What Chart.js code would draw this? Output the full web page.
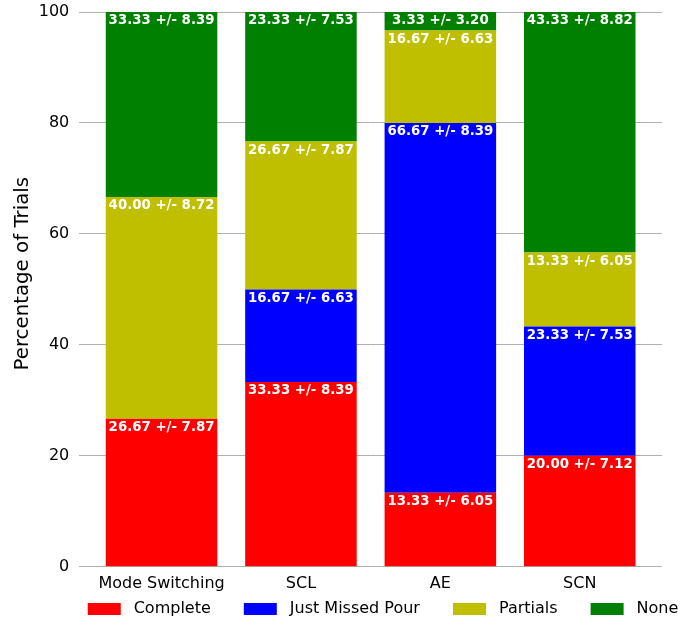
<!DOCTYPE html>
<html>
<head>
<meta charset="utf-8">
<script src="https://cdn.jsdelivr.net/npm/chart.js@4/dist/chart.umd.min.js"></script>
<style>
  html, body { margin: 0; padding: 0; background: #ffffff; overflow: hidden; }
  #wrap { position: relative; width: 691px; height: 620px; }
</style>
</head>
<body>
<div id="wrap"><canvas id="chart"></canvas></div>
<script>
// Outcome of trials per control method (percent, with standard error)
const categories = ['Mode Switching', 'SCL', 'AE', 'SCN'];
const seriesNames = ['Complete', 'Just Missed Pour', 'Partials', 'None'];

const complete       = [26.67, 33.33, 13.33, 20.00];
const completeErr    = [7.87, 8.39, 6.05, 7.12];
const justMissed     = [0.00, 16.67, 66.67, 23.33];
const justMissedErr  = [0.00, 6.63, 8.39, 7.53];
const partials       = [40.00, 26.67, 16.67, 13.33];
const partialsErr    = [8.72, 7.87, 6.63, 6.05];
const none           = [33.33, 23.33, 3.33, 43.33];
const noneErr        = [8.39, 7.53, 3.20, 8.82];

const yTicks = [0, 20, 40, 60, 80, 100];

const colors = ['#ff0000', '#0000ff', '#bfbf00', '#008000'];
const FONT = '"DejaVu Sans", "Liberation Sans", sans-serif';

const values = [complete, justMissed, partials, none];
const errors = [completeErr, justMissedErr, partialsErr, noneErr];

const datasets = seriesNames.map((name, s) => ({
  label: name,
  data: values[s].map((v, i) => ({ x: i, y: v })),
  errors: errors[s],
  backgroundColor: colors[s],
  borderWidth: 0,
  stack: 'outcome',
  categoryPercentage: 0.8,
  barPercentage: 1.0
}));

// Legend swatch: coloured box with a little spacing around it
function swatch(color) {
  const c = document.createElement('canvas');
  c.width = 63; c.height = 12;
  const g = c.getContext('2d');
  g.fillStyle = color;
  g.fillRect(25, 0, 33, 12);
  return c;
}

// "mean +/- err" written in white at the top of every non-empty segment
const valueLabels = {
  id: 'valueLabels',
  afterDatasetsDraw(chart) {
    const ctx = chart.ctx;
    ctx.save();
    ctx.font = 'bold 13.33px ' + FONT;
    ctx.fillStyle = '#ffffff';
    ctx.textAlign = 'center';
    ctx.textBaseline = 'alphabetic';
    chart.data.datasets.forEach((ds, di) => {
      const meta = chart.getDatasetMeta(di);
      meta.data.forEach((bar, i) => {
        const v = ds.data[i].y;
        if (!v) return;
        const top = Math.min(bar.y, bar.base);
        ctx.fillText(v.toFixed(2) + ' +/- ' + ds.errors[i].toFixed(2), bar.x, top + 12.3);
      });
    });
    ctx.restore();
  }
};

// nudge the legend row to the right
const legendShift = {
  id: 'legendShift',
  afterLayout(chart) {
    chart.legend.left += 36;
    chart.legend.right += 36;
  }
};

new Chart(document.getElementById('chart'), {
  type: 'bar',
  data: { datasets },
  plugins: [valueLabels, legendShift],
  options: {
    responsive: true,
    maintainAspectRatio: false,
    animation: false,
    layout: { padding: { left: 7, right: 29, top: 12, bottom: 0 } },
    plugins: {
      tooltip: { enabled: false },
      legend: {
        position: 'bottom',
        maxHeight: 27,
        labels: {
          usePointStyle: true,
          pointStyleWidth: 63,
          boxHeight: 12,
          padding: 8,
          color: '#000000',
          font: { family: FONT, size: 16 },
          generateLabels(chart) {
            const items = Chart.defaults.plugins.legend.labels.generateLabels(chart);
            items.forEach((it, k) => { it.pointStyle = swatch(colors[k]); });
            return items;
          }
        }
      }
    },
    scales: {
      x: {
        type: 'linear',
        offset: false,
        min: -0.59,
        max: 3.59,
        grid: { display: false, drawTicks: false },
        border: { display: false },
        afterBuildTicks(scale) {
          scale.ticks = categories.map((_, i) => ({ value: i }));
        },
        // tick padding is only wanted above the labels
        afterFit(scale) { scale.height -= 7; },
        ticks: {
          autoSkip: false,
          maxRotation: 0,
          padding: 7,
          color: '#000000',
          font: { family: FONT, size: 16 }
          ,
          callback: (v) => categories[v]
        }
      },
      y: {
        stacked: true,
        min: 0,
        max: 100,
        z: 1,
        grid: { color: '#b0b0b0', lineWidth: 1, drawTicks: false },
        border: { display: false },
        afterBuildTicks(scale) {
          scale.ticks = yTicks.map((v) => ({ value: v }));
        },
        // tick padding is only wanted between labels and plot;
        // the top label may overhang the plot edge
        afterFit(scale) {
          scale.width -= 10;
          scale.paddingTop = 0;
        },
        ticks: {
          padding: 10,
          color: '#000000',
          font: { family: FONT, size: 16 }
        },
        title: {
          display: true,
          // leading spaces lift the centred (rotated) title slightly
          text: '     Percentage of Trials',
          color: '#000000',
          font: { family: FONT, size: 19.8 },
          padding: { top: 4, bottom: 4 }
        }
      }
    }
  }
});
</script>
</body>
</html>
